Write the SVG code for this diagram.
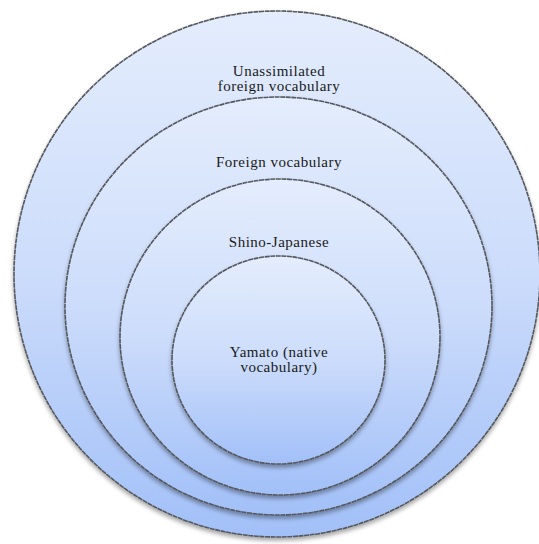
<svg xmlns="http://www.w3.org/2000/svg" width="539" height="544" viewBox="0 0 539 544">
  <style>
    .ring { fill: url(#blueGrad); stroke: #55585e; stroke-width: 1.6; stroke-dasharray: 5 0.6; filter: url(#shadow); }
    .label { font-family: 'Liberation Serif', 'Times New Roman', Times, serif; font-size: 15px; letter-spacing: 0.5px; fill: #1a1a1a; text-anchor: middle; }
  </style>
  <defs>
    <linearGradient id="blueGrad" x1="0" y1="0" x2="0" y2="1">
      <stop offset="0" stop-color="#e4edfd"/>
      <stop offset="0.5" stop-color="#ccdcfb"/>
      <stop offset="1" stop-color="#a2c0f8"/>
    </linearGradient>
    <filter id="shadow" x="-10%" y="-10%" width="120%" height="125%">
      <feDropShadow dx="0" dy="3" stdDeviation="2" flood-color="#000" flood-opacity="0.35"/>
    </filter>
  </defs>
  <rect width="539" height="544" fill="#ffffff"/>
  <g id="unassimilated">
    <ellipse class="ring" cx="277" cy="274" rx="263" ry="263"/>
    <text class="label" font-family="Liberation Serif, serif" x="279" y="76">Unassimilated</text>
    <text class="label" font-family="Liberation Serif, serif" x="279" y="91">foreign vocabulary</text>
  </g>
  <g id="foreign">
    <ellipse class="ring" cx="278.5" cy="306" rx="213.5" ry="209"/>
    <text class="label" font-family="Liberation Serif, serif" x="279" y="167">Foreign vocabulary</text>
  </g>
  <g id="shino-japanese">
    <ellipse class="ring" cx="280" cy="337" rx="160" ry="158"/>
    <text class="label" font-family="Liberation Serif, serif" x="279" y="247">Shino-Japanese</text>
  </g>
  <g id="yamato">
    <ellipse class="ring" cx="278.5" cy="360" rx="106.5" ry="104"/>
    <text class="label" font-family="Liberation Serif, serif" x="279" y="357">Yamato (native</text>
    <text class="label" font-family="Liberation Serif, serif" x="279" y="372">vocabulary)</text>
  </g>
  <g id="connectors"/>
</svg>
